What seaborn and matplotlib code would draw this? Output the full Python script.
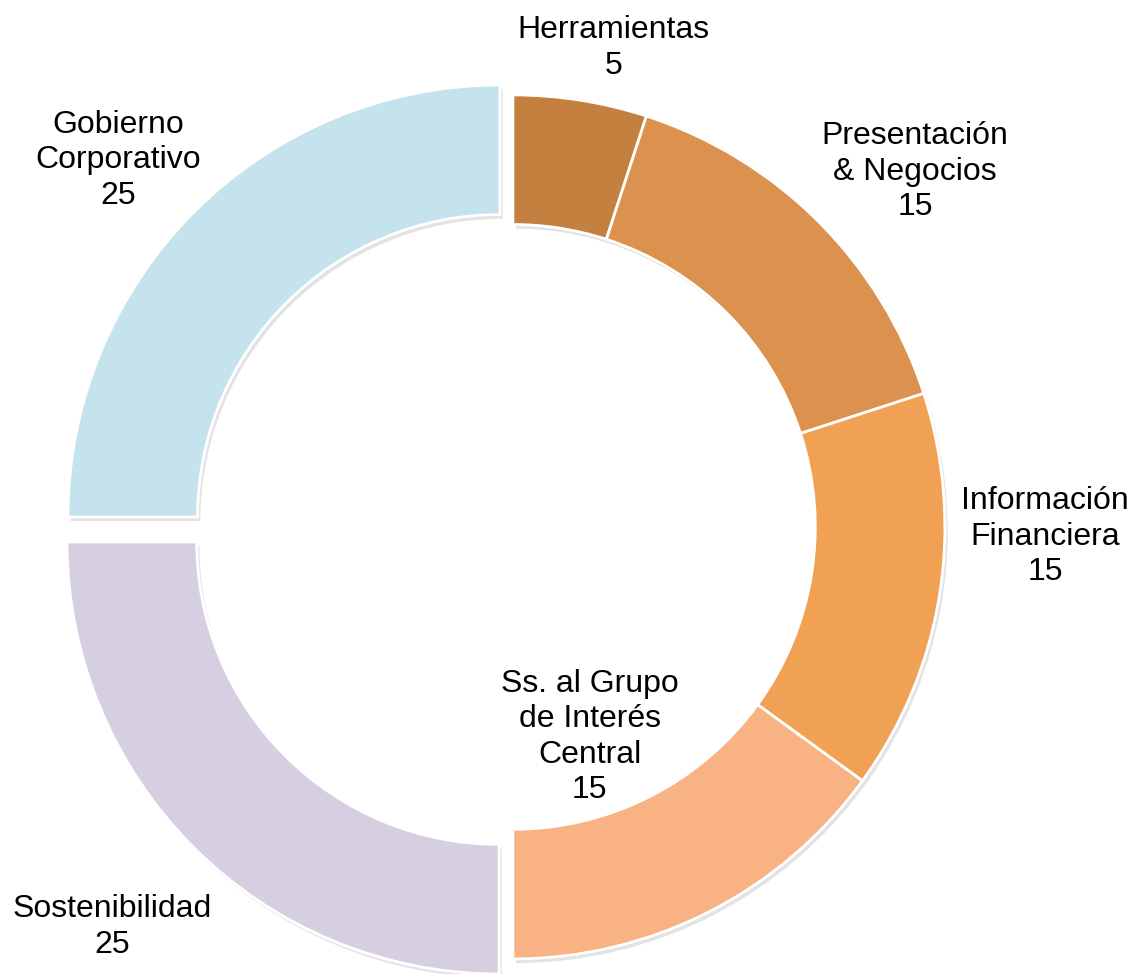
import matplotlib
matplotlib.use("Agg")
import matplotlib.pyplot as plt
import matplotlib.patheffects as pe
import seaborn as sns

sns.set_theme(style="white")
plt.rcParams["font.family"] = ["Liberation Sans", "DejaVu Sans"]

# data
categorias = ["Herramientas", "Presentación\n& Negocios", "Información\nFinanciera",
              "Ss. al Grupo\nde Interés\nCentral", "Sostenibilidad", "Gobierno\nCorporativo"]
valores = [5, 15, 15, 15, 25, 25]
colores = sns.color_palette(["#C4803F", "#DD914E", "#F0A153", "#F9B283", "#D6CEE1", "#C4E3EC"])

# desplazamiento de cada sector (separación del anillo)
offsets = [(0.016, 0.006)] * 4 + [(-0.016, -0.029), (-0.014, 0.029)]
# posición de las etiquetas
label_xy = [(0.248, 1.115), (0.947, 0.828), (1.248, -0.017),
            (0.194, -0.480), (-0.912, -0.920), (-0.898, 0.855)]

fig = plt.figure(figsize=(11.32, 9.74), dpi=100)
ax = fig.add_axes([0, 0, 1, 1])

wedges, _ = ax.pie(
    valores,
    colors=colores,
    startangle=90,
    counterclock=False,
    radius=1.0,
    wedgeprops={"width": 0.3, "edgecolor": "white", "linewidth": 2},
)

for w, off in zip(wedges, offsets):
    w.set_center(off)
    w.set_path_effects([pe.SimplePatchShadow(offset=(2, -3), alpha=0.2, shadow_rgbFace="#777777"),
                        pe.Normal()])

for cat, val, (x, y) in zip(categorias, valores, label_xy):
    ax.text(x, y, f"{cat}\n{val}", ha="center", va="center", fontsize=23,
            color="black", linespacing=1.24)

ax.set_xlim(-506 / 432, (1132 - 506) / 432)
ax.set_ylim(-(974 - 529.5) / 432, 529.5 / 432)
ax.set_aspect("equal")
ax.axis("off")

fig.savefig("out.png", dpi=100)
